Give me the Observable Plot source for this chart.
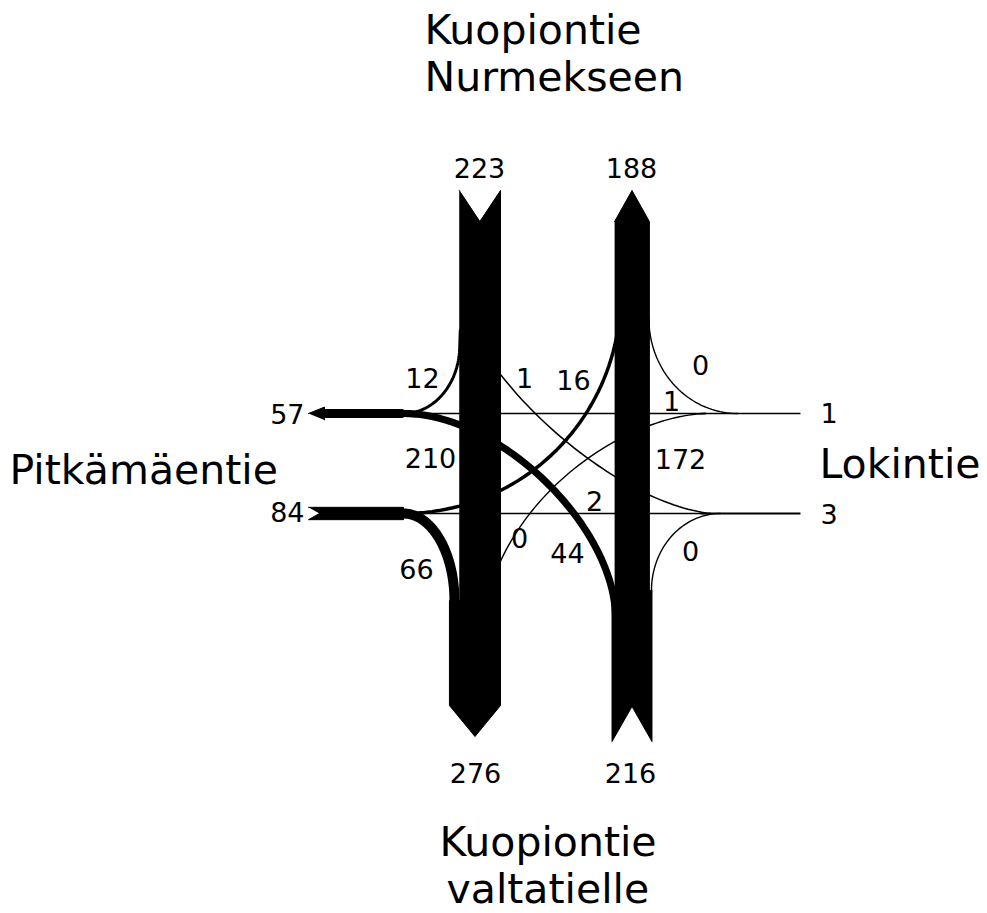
<!DOCTYPE html>
<html><head><meta charset="utf-8">
<script src="https://cdn.jsdelivr.net/npm/d3@7"></script>
<script src="https://cdn.jsdelivr.net/npm/@observablehq/plot@0.6"></script>
<style>body{margin:0;background:#fff}</style>
</head><body><div id="chart"></div>
<script>
// ---------------- DATA ----------------
// Junction legs: N = Kuopiontie Nurmekseen, S = Kuopiontie valtatielle, W = Pitkämäentie, E = Lokintie
const legs = ["N", "S", "W", "E"];
const legNameLines = [["Kuopiontie", "Nurmekseen"], ["Kuopiontie", "valtatielle"], ["Pitkämäentie"], ["Lokintie"]];
// vehicles entering / leaving the junction on each leg
const inflow = [223, 216, 84, 1];
const outflow = [188, 276, 57, 3];
// turning movements
const moveFrom = ["N", "N", "N", "S", "S", "S", "W", "W", "W", "E", "E", "E"];
const moveTo   = ["W", "S", "E", "E", "N", "W", "S", "N", "E", "N", "W", "S"];
const moveVals = [12, 210, 1, 0, 172, 44, 66, 16, 2, 0, 1, 0];

// ---------------- LAYOUT ----------------
const W = 987, H = 913;
const colW = v => v * 0.185;          // trunk width per vehicle
const flowW = v => 1.4 + v * 0.13;    // ribbon width per vehicle
const L = {
  sbEdge: 500, nbCenter: 631.5,
  headTop: 190, headBase: 221,
  sbArrowBase: 705, sbArrowTip: 736,
  nbNotchV: 706, nbNotchCorner: 741,
  widenY: 600, nbWidenY: 590,
  wbY: 413, ebY: 513,
  westNode: 403, westEnd: 308, arrowLen: 16,
  eastEnd: 800, eastNode: 705
};
const val = (f, t) => moveVals[moveFrom.findIndex((d, i) => d === f && moveTo[i] === t)];
const inOf = l => inflow[legs.indexOf(l)], outOf = l => outflow[legs.indexOf(l)];

const ellipse = (cx, cy, a, b, a0, a1, n = 48) => d3.range(n + 1).map(i => {
  const t = (a0 + (a1 - a0) * i / n) * Math.PI / 180;
  return [cx + a * Math.cos(t), cy + b * Math.sin(t)];
});
const bezier = (p0, p1, p2, p3, n = 48) => d3.range(n + 1).map(i => {
  const t = i / n, u = 1 - t;
  return [0, 1].map(j => u*u*u*p0[j] + 3*u*u*t*p1[j] + 3*u*t*t*p2[j] + t*t*t*p3[j]);
});

// trunks
const sbR = L.sbEdge, sbL = sbR - colW(inOf("N")), sbL2 = sbR - colW(outOf("S"));
const sbPoly = [[sbL, L.headTop], [(sbL + sbR) / 2, L.headBase], [sbR, L.headTop], [sbR, L.sbArrowBase],
  [(sbL2 + sbR) / 2, L.sbArrowTip], [sbL2, L.sbArrowBase], [sbL2, L.widenY], [sbL, L.widenY]];
const c = L.nbCenter, a1 = c - colW(outOf("N")) / 2, a2 = c + colW(outOf("N")) / 2;
const b1 = c - colW(inOf("S")) / 2, b2 = c + colW(inOf("S")) / 2;
const nbPoly = [[a1, L.headBase], [c, L.headTop], [a2, L.headBase], [a2, L.nbWidenY], [b2, L.nbWidenY],
  [b2, L.nbNotchCorner], [c, L.nbNotchV], [b1, L.nbNotchCorner], [b1, L.widenY], [a1, L.widenY]];

// movement ribbons
const wn = L.westNode;
const wsEndX = sbL2 + flowW(val("W", "S")) / 2;
const swEndX = b1 + flowW(val("S", "W")) / 2;
const paths = {
  "N-W": [[sbL + 1, 330], ...ellipse(wn, 345, sbL + 0.5 - wn, L.wbY - 345, 0, 90)],
  "N-E": [...bezier([497, 370], [550, 440], [640, 505], [710, L.ebY])],
  "S-E": [[b2 - 1, 605], ...ellipse(720, L.nbWidenY, 720 - b2 + 0.5, L.nbWidenY - L.ebY, 180, 270)],
  "S-W": bezier([swEndX, 618], [swEndX, 527], [500, L.wbY], [wn, L.wbY]),
  "W-S": [...ellipse(wn, L.widenY, wsEndX - wn, L.widenY - L.ebY, -90, 0), [wsEndX, L.widenY + 12]],
  "W-N": ellipse(wn, 295, 217, L.ebY - 295, 90, 0),
  "W-E": [[wn, L.ebY], [L.eastNode, L.ebY]],
  "E-N": ellipse(737, 318, 737 - a2 + 0.5, L.wbY - 318, 90, 180),
  "E-W": [[L.eastNode, L.wbY], [wn, L.wbY]],
  "E-S": bezier([L.eastNode, L.wbY], [640, 415], [540, 470], [498, 565])
};

// leg stubs
const wOut = flowW(outOf("W")), wIn = flowW(inOf("W"));
const westOutLine = [[wn, L.wbY], [L.westEnd + L.arrowLen - 2, L.wbY]];
const westOutHead = [[L.westEnd, L.wbY], [L.westEnd + L.arrowLen, L.wbY - wOut / 2 - 2], [L.westEnd + L.arrowLen, L.wbY + wOut / 2 + 2]];
const westInPoly = [[L.westEnd, L.ebY - wIn / 2], [wn, L.ebY - wIn / 2], [wn, L.ebY + wIn / 2], [L.westEnd, L.ebY + wIn / 2], [L.westEnd + 11, L.ebY]];
const eastIn = [[L.eastEnd, L.wbY], [L.eastNode - 5, L.wbY]];
const eastOut = [[L.eastNode - 5, L.ebY], [L.eastEnd, L.ebY]];

// labels
const movePos = {
  "N-W": [422, 387], "N-S": [430, 467], "N-E": [524, 387],
  "S-E": [690, 560], "S-N": [680, 468], "S-W": [567, 562],
  "W-S": [416, 578], "W-N": [573, 389], "W-E": [594, 510],
  "E-N": [700, 374], "E-W": [671, 410], "E-S": [519, 547]
};
const valueLabels = moveVals.map((v, i) => {
  const p = movePos[moveFrom[i] + "-" + moveTo[i]];
  return {x: p[0], y: p[1], text: String(v), anchor: "middle"};
});
const legInPos = {N: [479, 177, "middle"], S: [630, 782, "middle"], W: [304, 521, "end"], E: [820, 422, "start"]};
const legOutPos = {N: [631, 177, "middle"], S: [475, 782, "middle"], W: [304, 423, "end"], E: [820, 523, "start"]};
legs.forEach((l, i) => {
  valueLabels.push({x: legInPos[l][0], y: legInPos[l][1], text: String(inflow[i]), anchor: legInPos[l][2]});
  valueLabels.push({x: legOutPos[l][0], y: legOutPos[l][1], text: String(outflow[i]), anchor: legOutPos[l][2]});
});
const namePos = {N: [[424, 43], [424, 90]], S: [[439, 855], [446, 902]], W: [[9, 483]], E: [[819, 477]]};
const nameLabels = legs.flatMap((l, i) => legNameLines[i].map((t, j) => ({x: namePos[l][j][0], y: namePos[l][j][1], text: t})));

// ---------------- PLOT ----------------
const px = {x: d => d[0], y: d => d[1]};
const poly = pts => Plot.line(pts, {...px, fill: "black", stroke: "black", strokeWidth: 1, strokeLinejoin: "miter"});
const marks = [poly(sbPoly), poly(nbPoly)];
moveVals.forEach((v, i) => {
  const key = moveFrom[i] + "-" + moveTo[i];
  if (paths[key]) marks.push(Plot.line(paths[key], {...px, stroke: "black", strokeWidth: flowW(v), curve: "linear"}));
});
marks.push(Plot.line(westOutLine, {...px, stroke: "black", strokeWidth: wOut, strokeLinecap: "butt"}));
marks.push(poly(westOutHead), poly(westInPoly));
marks.push(Plot.line(eastIn, {...px, stroke: "black", strokeWidth: flowW(inOf("E")), strokeLinecap: "butt"}));
marks.push(Plot.line(eastOut, {...px, stroke: "black", strokeWidth: flowW(outOf("E")), strokeLinecap: "butt"}));
for (const anchor of ["start", "middle", "end"]) {
  marks.push(Plot.text(valueLabels.filter(d => d.anchor === anchor), {x: "x", y: "y", text: "text", textAnchor: anchor, lineAnchor: "bottom", fontSize: 27, fill: "black"}));
}
marks.push(Plot.text(nameLabels, {x: "x", y: "y", text: "text", textAnchor: "start", lineAnchor: "bottom", fontSize: 41, fill: "black"}));

const chart = Plot.plot({
  width: W, height: H, margin: 0,
  x: {domain: [0, W], range: [0, W], axis: null},
  y: {domain: [0, H], range: [0, H], axis: null},
  style: {fontFamily: "DejaVu Sans", background: "white"},
  marks
});
document.getElementById("chart").appendChild(chart);
</script>
</body></html>
